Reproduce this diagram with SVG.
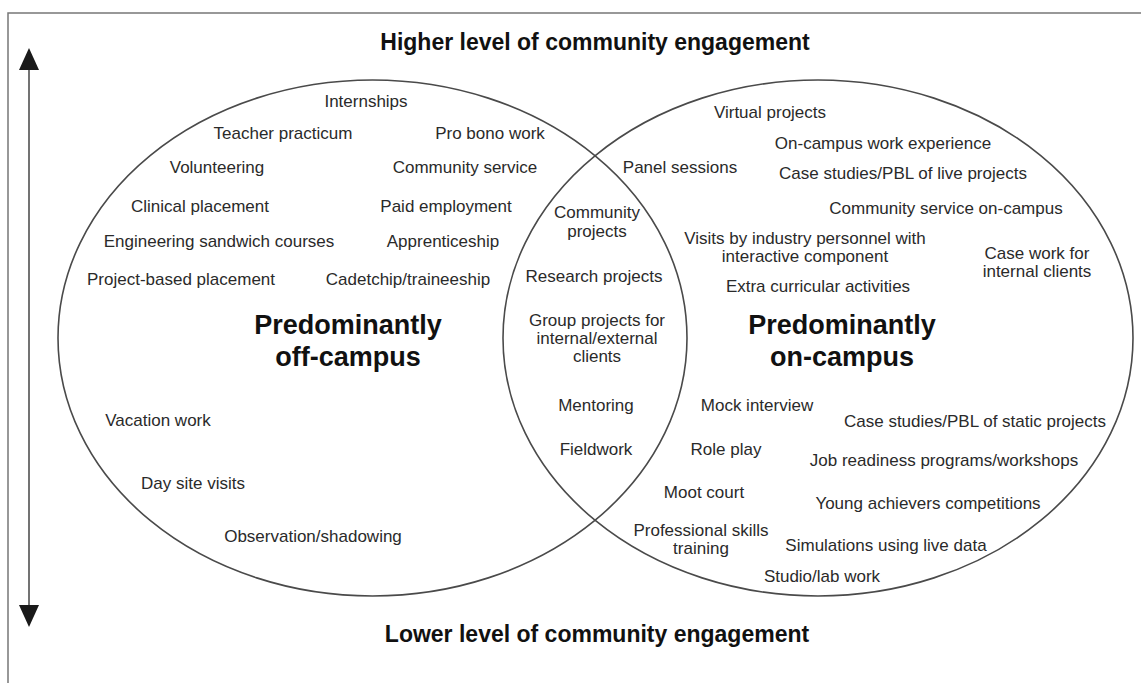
<svg xmlns="http://www.w3.org/2000/svg" width="1141" height="683" viewBox="0 0 1141 683">
<style>
text{font-family:"Liberation Sans",Arial,sans-serif;fill:#2a2a2a;text-anchor:middle}
.t{font-size:17px}
.h{font-size:23px;font-weight:bold;fill:#111}
.b{font-size:27px;font-weight:bold;fill:#111}
.ring{fill:none;stroke:#4a4a4a;stroke-width:1.6}
</style>
<defs>
<marker id="ah" viewBox="0 0 22 20" refX="2" refY="10" markerWidth="22" markerHeight="20" markerUnits="userSpaceOnUse" orient="auto-start-reverse">
<path d="M0,0 L22,10 L0,20 Z" fill="#1a1a1a"/>
</marker>
</defs>
<rect x="8" y="13" width="1200" height="800" fill="#fff" stroke="#777" stroke-width="1.5"/>
<g id="connectors">
<line x1="29" y1="68" x2="29" y2="607" stroke="#444" stroke-width="1.5" marker-start="url(#ah)" marker-end="url(#ah)"/>
</g>
<g id="titles">
<text class="h" x="595" y="50">Higher level of community engagement</text>
<text class="h" x="597" y="642">Lower level of community engagement</text>
</g>
<g id="off-campus">
<ellipse class="ring" cx="372.5" cy="338" rx="314.5" ry="258"/>
<text class="t" x="366" y="107">Internships</text>
<text class="t" x="283" y="139">Teacher practicum</text>
<text class="t" x="490" y="139">Pro bono work</text>
<text class="t" x="217" y="173">Volunteering</text>
<text class="t" x="465" y="173">Community service</text>
<text class="t" x="200" y="212">Clinical placement</text>
<text class="t" x="446" y="212">Paid employment</text>
<text class="t" x="219" y="247">Engineering sandwich courses</text>
<text class="t" x="443" y="247">Apprenticeship</text>
<text class="t" x="181" y="285">Project-based placement</text>
<text class="t" x="408" y="285">Cadetchip/traineeship</text>
<text class="b" x="348" y="334">Predominantly</text>
<text class="b" x="348" y="366">off-campus</text>
<text class="t" x="158" y="426">Vacation work</text>
<text class="t" x="193" y="489">Day site visits</text>
<text class="t" x="313" y="542">Observation/shadowing</text>
</g>
<g id="on-campus">
<ellipse class="ring" cx="818" cy="338" rx="315" ry="258"/>
<text class="t" x="770" y="118">Virtual projects</text>
<text class="t" x="680" y="173">Panel sessions</text>
<text class="t" x="883" y="149">On-campus work experience</text>
<text class="t" x="903" y="179">Case studies/PBL of live projects</text>
<text class="t" x="946" y="214">Community service on-campus</text>
<text class="t" x="805" y="244">Visits by industry personnel with</text>
<text class="t" x="805" y="262">interactive component</text>
<text class="t" x="1037" y="259">Case work for</text>
<text class="t" x="1037" y="277">internal clients</text>
<text class="t" x="818" y="292">Extra curricular activities</text>
<text class="b" x="842" y="334">Predominantly</text>
<text class="b" x="842" y="366">on-campus</text>
<text class="t" x="757" y="411">Mock interview</text>
<text class="t" x="975" y="427">Case studies/PBL of static projects</text>
<text class="t" x="726" y="455">Role play</text>
<text class="t" x="944" y="466">Job readiness programs/workshops</text>
<text class="t" x="704" y="498">Moot court</text>
<text class="t" x="928" y="509">Young achievers competitions</text>
<text class="t" x="701" y="536">Professional skills</text>
<text class="t" x="701" y="554">training</text>
<text class="t" x="886" y="551">Simulations using live data</text>
<text class="t" x="822" y="582">Studio/lab work</text>
</g>
<g id="overlap">
<text class="t" x="597" y="218">Community</text>
<text class="t" x="597" y="237">projects</text>
<text class="t" x="594" y="282">Research projects</text>
<text class="t" x="597" y="326">Group projects for</text>
<text class="t" x="597" y="344">internal/external</text>
<text class="t" x="597" y="362">clients</text>
<text class="t" x="596" y="411">Mentoring</text>
<text class="t" x="596" y="455">Fieldwork</text>
</g>
</svg>
